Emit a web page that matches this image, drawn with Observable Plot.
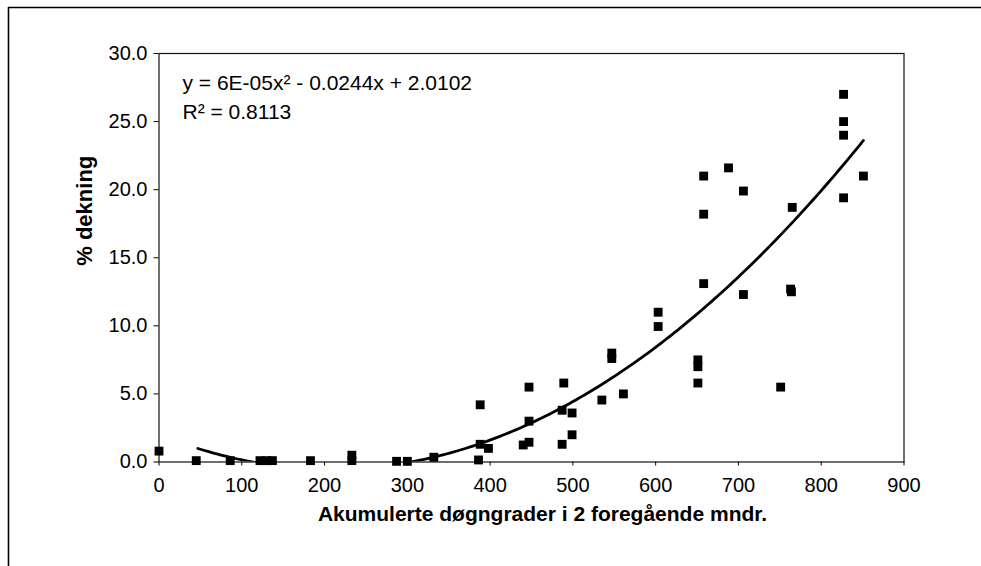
<!DOCTYPE html>
<html>
<head>
<meta charset="utf-8">
<script src="https://cdn.jsdelivr.net/npm/d3@7"></script>
<script src="https://cdn.jsdelivr.net/npm/@observablehq/plot@0.6"></script>
<style>
  html, body { margin: 0; padding: 0; background: #fff; }
  #chart { width: 981px; height: 566px; }
</style>
</head>
<body>
<div id="chart"></div>
<script>
// Accumulated degree-days (x) and % coverage (y)
const degreeDays = [0, 45, 86, 122, 130, 137, 183, 233, 233, 287, 300, 332,
  386, 388, 388, 398, 440, 447, 447, 447, 487, 487, 489, 499, 499, 535,
  547, 547, 561, 603, 603, 651, 651, 651, 658, 658, 658, 688, 706, 706,
  751, 763, 764, 765, 827, 827, 827, 827, 851];
const coverage = [0.8, 0.1, 0.1, 0.1, 0.1, 0.1, 0.1, 0.1, 0.5, 0.05, 0.05, 0.35,
  0.15, 1.3, 4.2, 1.0, 1.25, 1.45, 3.0, 5.5, 1.3, 3.8, 5.8, 3.6, 2.0, 4.55,
  7.6, 8.0, 5.0, 11.0, 9.95, 7.5, 7.0, 5.8, 13.1, 18.2, 21.0, 21.6, 19.9, 12.3,
  5.5, 12.7, 12.5, 18.7, 27.0, 25.0, 24.0, 19.4, 21.0];

// Polynomial trendline (a, b, c) and the x range it is drawn over
const trendCoef = [5.85e-5, -0.0244, 2.0102];
const trendRange = [47, 851];

const xTicks = [0, 100, 200, 300, 400, 500, 600, 700, 800, 900];
const yTicks = [0, 5, 10, 15, 20, 25, 30];

const equationLines = ["y = 6E-05x² - 0.0244x + 2.0102", "R² = 0.8113"];
const xTitle = "Akumulerte døgngrader i 2 foregående mndr.";
const yTitle = "% dekning";

const points = degreeDays.map((x, i) => ({x, y: coverage[i]}));
const trend = d3.range(trendRange[0], trendRange[1] + 0.001, 4)
  .map(x => ({x, y: trendCoef[0] * x * x + trendCoef[1] * x + trendCoef[2]}));

const chart = Plot.plot({
  width: 981,
  height: 566,
  marginLeft: 158.5,
  marginRight: 77.5,
  marginTop: 53,
  marginBottom: 104.5,
  style: {fontFamily: "'Liberation Sans', Arial, sans-serif", fontSize: "20px", color: "#000", background: "#fff"},
  x: {domain: [0, 900], ticks: xTicks, tickSize: 4, tickPadding: 11.5, label: null, tickFormat: d3.format("d")},
  y: {domain: [0, 30], ticks: yTicks, tickSize: 5, tickPadding: 6.5, label: null, tickFormat: d3.format(".1f")},
  marks: [
    Plot.frame({stroke: "#111", strokeWidth: 1.2}),
    Plot.line(trend, {x: "x", y: "y", stroke: "#000", strokeWidth: 2.8, clip: true}),
    Plot.dot(points, {x: "x", y: "y", symbol: "square", r: 5, fill: "#000", stroke: "none"}),
    Plot.text([equationLines[0]], {frameAnchor: "top-left", dx: 23.5, dy: 30, textAnchor: "start", lineAnchor: "middle", fontSize: 21, fill: "#000"}),
    Plot.text([equationLines[1]], {frameAnchor: "top-left", dx: 23.5, dy: 58.5, textAnchor: "start", lineAnchor: "middle", fontSize: 21, fill: "#000"}),
    Plot.text([xTitle], {frameAnchor: "bottom", dx: 11, dy: 52, lineAnchor: "middle", fontSize: 21, fontWeight: "bold", fill: "#000"}),
    Plot.text([yTitle], {frameAnchor: "left", dx: -74, dy: 8, rotate: -90, lineAnchor: "middle", fontSize: 22, fontWeight: "bold", fill: "#000"})
  ]
});

// Outer page border (top and left edges visible in the reference)
const svg = d3.select(chart);
svg.append("line").attr("x1", 8).attr("x2", 981).attr("y1", 7.5).attr("y2", 7.5)
  .attr("stroke", "#000").attr("stroke-width", 1.6);
svg.append("line").attr("x1", 8.5).attr("x2", 8.5).attr("y1", 7).attr("y2", 566)
  .attr("stroke", "#000").attr("stroke-width", 1.6);

document.getElementById("chart").appendChild(chart);
</script>
</body>
</html>
